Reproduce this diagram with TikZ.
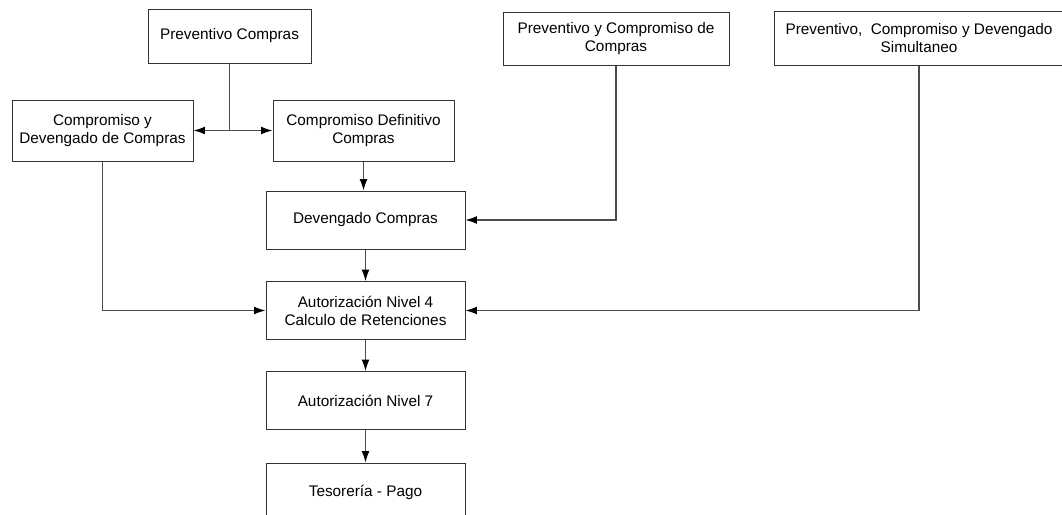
\documentclass[tikz,border=0pt]{standalone}
\usepackage{fontspec}
\setmainfont{Liberation Sans}
\usetikzlibrary{arrows.meta}

\begin{document}
\begin{tikzpicture}[x=0.75pt, y=-0.75pt,
		caja/.style={draw=black!80, line width=0.75pt, fill=white, align=center, inner sep=0pt,
			minimum width=149.25pt, minimum height=43.5pt, font=\fontsize{11.5}{13.5}\selectfont},
		flecha/.style={draw=black!70, line width=0.8pt, -{Latex[length=8.5pt, width=5.8pt, color=black]}}]
		%%%%% START %%%%%
		
		\useasboundingbox (0, 0) rectangle (1062, 514);
		
		\node[caja, minimum width=122.25pt, minimum height=40.5pt] (prevcompras) at (229.5, 36) {Preventivo Compras};
		\node[caja, minimum width=135.75pt, minimum height=45.75pt] (compdev) at (102.5, 130.5) {Compromiso y\\Devengado de Compras};
		\node[caja, minimum width=135.75pt, minimum height=45.75pt] (compdef) at (363.5, 130.5) {Compromiso Definitivo\\Compras};
		\node[caja, minimum width=169.5pt, minimum height=39.75pt] (prevcomp) at (616, 38.5) {Preventivo y Compromiso de\\Compras};
		\node[caja, minimum width=217.5pt, minimum height=40.5pt] (simult) at (919, 38) {Preventivo,~ Compromiso y Devengado\\Simultaneo};
		
		\node[caja] (devengado) at (365.5, 220) {Devengado Compras};
		\node[caja] (aut4) at (365.5, 310.5) {Autorización Nivel 4\\Calculo de Retenciones};
		\node[caja] (aut7) at (365.5, 400.5) {Autorización Nivel 7};
		\node[caja] (tesoreria) at (365.5, 492) {Tesorería - Pago};
		
		\draw[flecha] (prevcompras.south) |- (compdev.east);
		\draw[flecha] (prevcompras.south) |- (compdef.west);
		\draw[flecha] (compdef.south) -- (compdef.south |- devengado.north);
		\draw[flecha] (prevcomp.south) |- (devengado.east);
		
		\draw[flecha] (devengado) -- (aut4);
		\draw[flecha] (compdev.south) |- (aut4.west);
		\draw[flecha] (simult.south) |- (aut4.east);
		
		\draw[flecha] (aut4) -- (aut7);
		\draw[flecha] (aut7) -- (tesoreria);
		
		%%%%% END %%%%%
	\end{tikzpicture}
\end{document}
